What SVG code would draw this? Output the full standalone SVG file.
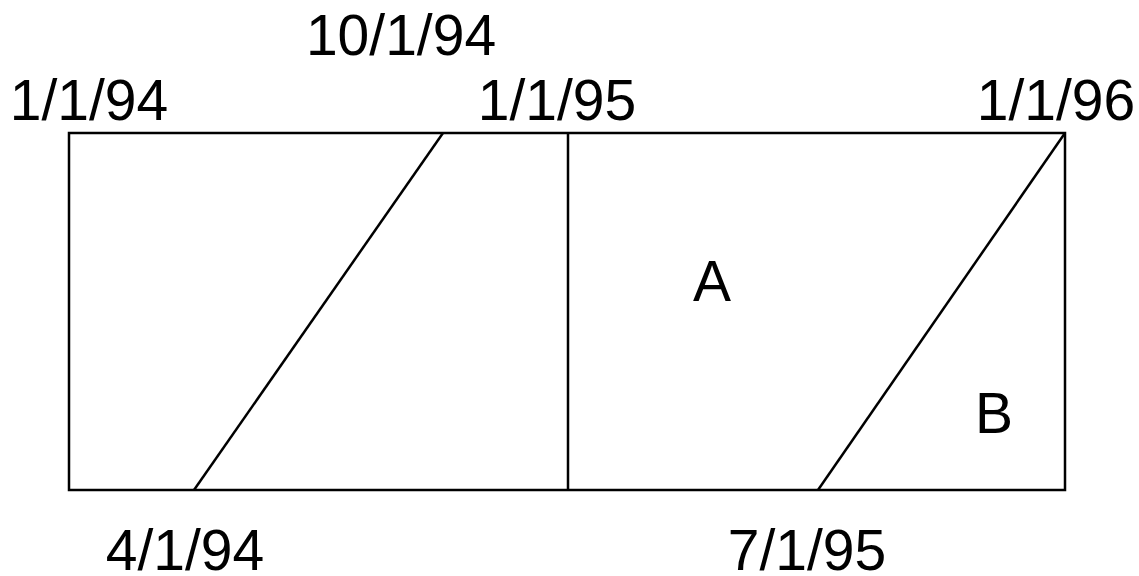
<svg xmlns="http://www.w3.org/2000/svg" width="1139" height="576" viewBox="0 0 1139 576">
<style>
.ln{stroke:#000;stroke-width:2.5;fill:none}
.t{font-family:"Liberation Sans",Arial,sans-serif;font-size:57px;fill:#000;text-anchor:middle}
</style>
<rect x="0" y="0" width="1139" height="576" fill="#fff"/>
<g id="frame">
<rect class="ln" x="69" y="133" width="996" height="357"/>
<line class="ln" x1="568" y1="133" x2="568" y2="490"/>
</g>
<g id="connectors">
<line class="ln" x1="443" y1="133" x2="194" y2="490"/>
<line class="ln" x1="1065" y1="133" x2="818" y2="490"/>
</g>
<g id="labels">
<text class="t" x="401" y="55">10/1/94</text>
<text class="t" x="89" y="120">1/1/94</text>
<text class="t" x="557" y="120">1/1/95</text>
<text class="t" x="1056" y="120">1/1/96</text>
<text class="t" x="712" y="301">A</text>
<text class="t" x="994" y="433">B</text>
<text class="t" x="185" y="570">4/1/94</text>
<text class="t" x="807" y="570">7/1/95</text>
</g>
</svg>
